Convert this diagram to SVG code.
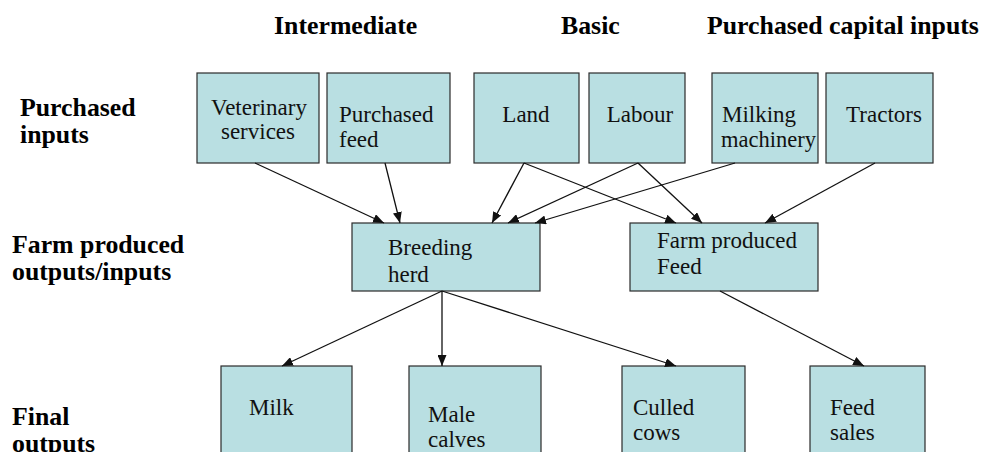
<svg xmlns="http://www.w3.org/2000/svg" width="982" height="452" viewBox="0 0 982 452">
  <style>
    .box { fill: #b9dfe2; stroke: #2b2b2b; stroke-width: 1.2; }
    .edge { stroke: #111; stroke-width: 1.3; fill: none; marker-end: url(#arrow); }
  </style>
  <defs>
    <marker id="arrow" markerUnits="userSpaceOnUse" markerWidth="11" markerHeight="9" refX="11" refY="4.5" orient="auto">
      <path d="M0,0 L11,4.5 L0,9 Z" fill="#111"/>
    </marker>
  </defs>
  <rect width="982" height="452" fill="#fff"/>

  <!-- column and row headings -->
  <g id="headings" font-family="Liberation Serif, serif" font-size="25.8" font-weight="bold" fill="#000">
    <text x="274" y="34">Intermediate</text>
    <text x="561" y="34">Basic</text>
    <text x="707" y="34">Purchased capital inputs</text>
    <text x="20" y="116">Purchased</text>
    <text x="20" y="143">inputs</text>
    <text x="12" y="253">Farm produced</text>
    <text x="12" y="280">outputs/inputs</text>
    <text x="12" y="425">Final</text>
    <text x="12" y="452">outputs</text>
  </g>

  <g font-family="Liberation Serif, serif" font-size="23" fill="#111">
    <!-- purchased inputs -->
    <g id="vet">
      <rect class="box" x="197" y="73" width="122" height="90"/>
      <text x="259" y="115" text-anchor="middle">Veterinary</text>
      <text x="258" y="139" text-anchor="middle">services</text>
    </g>
    <g id="purchased-feed">
      <rect class="box" x="327" y="73" width="123" height="90"/>
      <text x="339" y="122">Purchased</text>
      <text x="339" y="147">feed</text>
    </g>
    <g id="land">
      <rect class="box" x="474" y="73" width="105" height="90"/>
      <text x="526" y="122" text-anchor="middle">Land</text>
    </g>
    <g id="labour">
      <rect class="box" x="589" y="73" width="96" height="90"/>
      <text x="640" y="122" text-anchor="middle">Labour</text>
    </g>
    <g id="milking">
      <rect class="box" x="712" y="73" width="106" height="90"/>
      <text x="722" y="122">Milking</text>
      <text x="721" y="147" font-size="22.5">machinery</text>
    </g>
    <g id="tractors">
      <rect class="box" x="826" y="73" width="107" height="90"/>
      <text x="884" y="122" text-anchor="middle">Tractors</text>
    </g>

    <!-- farm produced outputs/inputs -->
    <g id="breeding">
      <rect class="box" x="352" y="223" width="188" height="68"/>
      <text x="388" y="255">Breeding</text>
      <text x="388" y="282">herd</text>
    </g>
    <g id="farm-feed">
      <rect class="box" x="630" y="223" width="188" height="68"/>
      <text x="657" y="248">Farm produced</text>
      <text x="657" y="274">Feed</text>
    </g>

    <!-- final outputs -->
    <g id="milk">
      <rect class="box" x="221" y="366" width="131" height="110"/>
      <text x="249" y="415">Milk</text>
    </g>
    <g id="male-calves">
      <rect class="box" x="409" y="366" width="132" height="110"/>
      <text x="428" y="422">Male</text>
      <text x="428" y="447">calves</text>
    </g>
    <g id="culled-cows">
      <rect class="box" x="622" y="366" width="123" height="110"/>
      <text x="633" y="415">Culled</text>
      <text x="633" y="440">cows</text>
    </g>
    <g id="feed-sales">
      <rect class="box" x="810" y="366" width="115" height="110"/>
      <text x="830" y="415">Feed</text>
      <text x="830" y="440">sales</text>
    </g>
  </g>

  <!-- connectors -->
  <g id="connectors">
    <line class="edge" x1="255" y1="163" x2="384" y2="223"/>
    <line class="edge" x1="385" y1="163" x2="400" y2="223"/>
    <line class="edge" x1="524" y1="163" x2="492" y2="223"/>
    <line class="edge" x1="524" y1="163" x2="676" y2="223"/>
    <line class="edge" x1="638" y1="163" x2="508" y2="223"/>
    <line class="edge" x1="638" y1="163" x2="702" y2="223"/>
    <line class="edge" x1="735" y1="163" x2="535" y2="223"/>
    <line class="edge" x1="875" y1="163" x2="765" y2="223"/>
    <line class="edge" x1="442" y1="291" x2="282" y2="366"/>
    <line class="edge" x1="442" y1="291" x2="442" y2="366"/>
    <line class="edge" x1="442" y1="291" x2="676" y2="366"/>
    <line class="edge" x1="720" y1="291" x2="864" y2="366"/>
  </g>
</svg>
